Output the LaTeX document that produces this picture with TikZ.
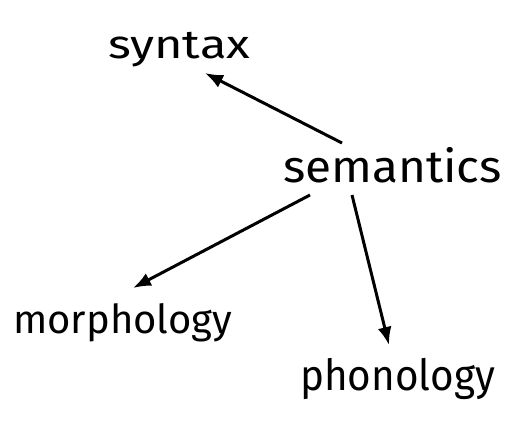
\documentclass[tikz,border=0pt]{standalone}
\usepackage{fontspec}
\setmainfont{Fira Sans}
\usetikzlibrary{arrows.meta}
\begin{document}
\begin{tikzpicture}[x=1pt,y=-1pt,
  word/.style={inner sep=0pt,anchor=base west},
  link/.style={line width=3pt,-{Latex[length=18pt,width=14pt]}}]
\useasboundingbox (0,0) rectangle (505,423);
\node[word,font=\fontsize{40}{40}\selectfont] (syntax) at (108,58) {\scalebox{1.22}[1]{syntax}};
\node[word,font=\fontsize{45}{45}\selectfont] (semantics) at (283,182) {\scalebox{1.06}[1]{semantics}};
\node[word,font=\fontsize{40}{40}\selectfont] (morphology) at (13,333) {morphology};
\node[word,font=\fontsize{43}{43}\selectfont] (phonology) at (300,390) {\scalebox{0.94}[1]{phonology}};
\coordinate (s1) at (342,143);
\coordinate (t1) at (205,73);
\coordinate (s2) at (310,195);
\coordinate (t2) at (133,288);
\coordinate (s3) at (352,195);
\coordinate (t3) at (389,345);
\draw[link] (s1) -- (t1);
\draw[link] (s2) -- (t2);
\draw[link] (s3) -- (t3);
\end{tikzpicture}
\end{document}
